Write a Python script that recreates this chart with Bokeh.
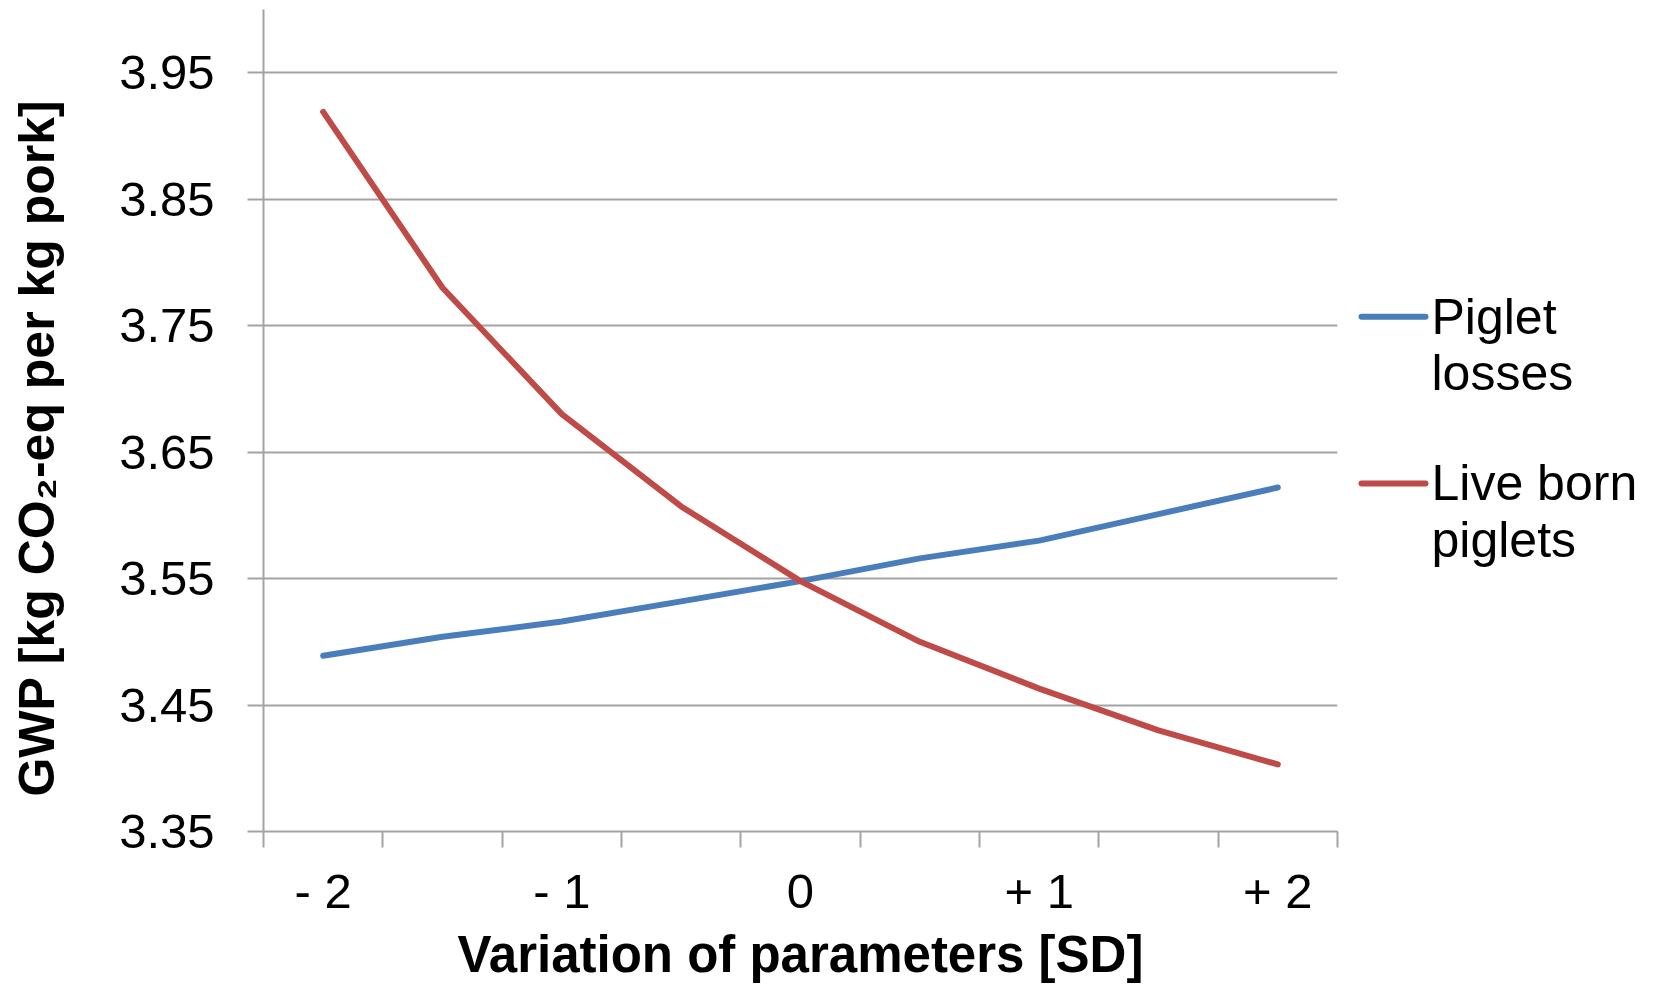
import math
from bokeh.plotting import figure
from bokeh.layouts import row
from bokeh.models import FixedTicker, NumeralTickFormatter, Range1d
from bokeh.core.properties import value
from bokeh.embed import file_html
from bokeh.resources import INLINE

# ---- data ----
sd_values = [-2, -1.5, -1, -0.5, 0, 0.5, 1, 1.5, 2]
piglet_losses = [3.489, 3.504, 3.516, 3.532, 3.548, 3.566, 3.580, 3.601, 3.622]
live_born_piglets = [3.919, 3.780, 3.680, 3.607, 3.548, 3.500, 3.463, 3.430, 3.403]
piglet_losses_label = ["Piglet", "losses"]
live_born_label = ["Live born", "piglets"]
x_tick_values = [-2, -1, 0, 1, 2]
x_tick_labels = ["- 2", "- 1", "0", "+ 1", "+ 2"]
y_tick_values = [3.35, 3.45, 3.55, 3.65, 3.75, 3.85, 3.95]
x_title = "Variation of parameters [SD]"
y_title = "GWP [kg CO\u2082-eq per kg pork]"

# category boundaries (Excel draws tick marks between categories)
half = 0.25
x_edges = [sd_values[0] - half] + [v + half for v in sd_values]

FONT = "Liberation Sans"
GRID = "#a3a3a3"
BLUE = "#4a7ebb"
RED = "#be4b48"
H = 985
TOP, BOTTOM = 9, 153              # plot-frame borders (frames are aligned in the row)
W_TITLE, W_LEGEND = 90, 330
W_MAIN = 1669 - W_TITLE - W_LEGEND

# ---------------- main chart ----------------
p = figure(width=W_MAIN, height=H, output_backend="svg", toolbar_location=None,
           x_range=Range1d(x_edges[0], x_edges[-1]), y_range=Range1d(3.35, 4.0),
           min_border_left=263 - W_TITLE, min_border_right=2,
           min_border_top=TOP, min_border_bottom=BOTTOM)
p.outline_line_color = None
p.background_fill_color = "white"
p.border_fill_color = "white"

p.line(sd_values, piglet_losses, line_color=BLUE, line_width=6,
       line_cap="round", line_join="round")
p.line(sd_values, live_born_piglets, line_color=RED, line_width=6,
       line_cap="round", line_join="round")

p.xgrid.visible = False
p.ygrid.ticker = FixedTicker(ticks=y_tick_values)
p.ygrid.grid_line_color = GRID
p.ygrid.grid_line_width = 2

ya = p.yaxis[0]
ya.ticker = FixedTicker(ticks=y_tick_values)
ya.formatter = NumeralTickFormatter(format="0.00")
ya.axis_line_color = GRID
ya.axis_line_width = 2
ya.major_tick_line_color = GRID
ya.major_tick_line_width = 2
ya.major_tick_out = 16
ya.major_tick_in = 0
ya.minor_tick_line_color = None
ya.major_label_text_font = FONT
ya.major_label_text_font_size = "49px"
ya.major_label_text_color = "black"
ya.major_label_standoff = 33

xa = p.xaxis[0]
xa.ticker = FixedTicker(ticks=x_tick_values, minor_ticks=x_edges)
xa.major_label_overrides = dict(zip(x_tick_values, x_tick_labels))
xa.axis_line_color = GRID
xa.axis_line_width = 2
xa.major_tick_line_color = None
xa.major_tick_out = 0
xa.major_tick_in = 0
xa.minor_tick_line_color = GRID
xa.minor_tick_line_width = 2
xa.minor_tick_out = 16
xa.minor_tick_in = 0
xa.major_label_text_font = FONT
xa.major_label_text_font_size = "49px"
xa.major_label_text_color = "black"
xa.major_label_standoff = 16
xa.axis_label = x_title
xa.axis_label_text_font = FONT
xa.axis_label_text_font_style = "bold"
xa.axis_label_text_font_size = "51px"
xa.axis_label_text_color = "black"
xa.axis_label_standoff = 5

# side strips: y data = distance from the bottom of the page, in pixels
side_y = Range1d(BOTTOM, H - TOP)

# ---------------- y-axis title strip ----------------
t = figure(width=W_TITLE, height=H, output_backend="svg", toolbar_location=None,
           x_range=Range1d(0, W_TITLE), y_range=side_y,
           x_axis_type=None, y_axis_type=None, min_border=0)
t.outline_line_color = None
t.grid.visible = False
t.text(x=[36], y=[H - 448], text=[y_title], angle=math.pi / 2,
       text_align="center", text_baseline="middle", text_font=value(FONT),
       text_font_style="bold", text_font_size="50px", text_color="black")

# ---------------- legend strip ----------------
lg = figure(width=W_LEGEND, height=H, output_backend="svg", toolbar_location=None,
            x_range=Range1d(0, W_LEGEND), y_range=Range1d(BOTTOM, H - TOP),
            x_axis_type=None, y_axis_type=None, min_border=0)
lg.outline_line_color = None
lg.grid.visible = False

legend_colors = [BLUE, RED]
legend_first_row = [H - 316.7, H - 483.5]      # swatch / first text line
row_step = 56.7
swatch_x0, swatch_x1, text_x = 22, 86, 92

lg.segment(x0=[swatch_x0] * 2, y0=legend_first_row,
           x1=[swatch_x1] * 2, y1=legend_first_row,
           line_color=legend_colors, line_width=6, line_cap="round")

legend_texts = piglet_losses_label + live_born_label
legend_text_y = [legend_first_row[0], legend_first_row[0] - row_step,
                 legend_first_row[1], legend_first_row[1] - row_step]
lg.text(x=[text_x] * len(legend_texts), y=legend_text_y, text=legend_texts,
        text_align="left", text_baseline="middle", text_font=value(FONT),
        text_font_size="50px", text_color="black")

layout = row(t, p, lg)
open("out.html", "w").write(file_html(layout, INLINE))
